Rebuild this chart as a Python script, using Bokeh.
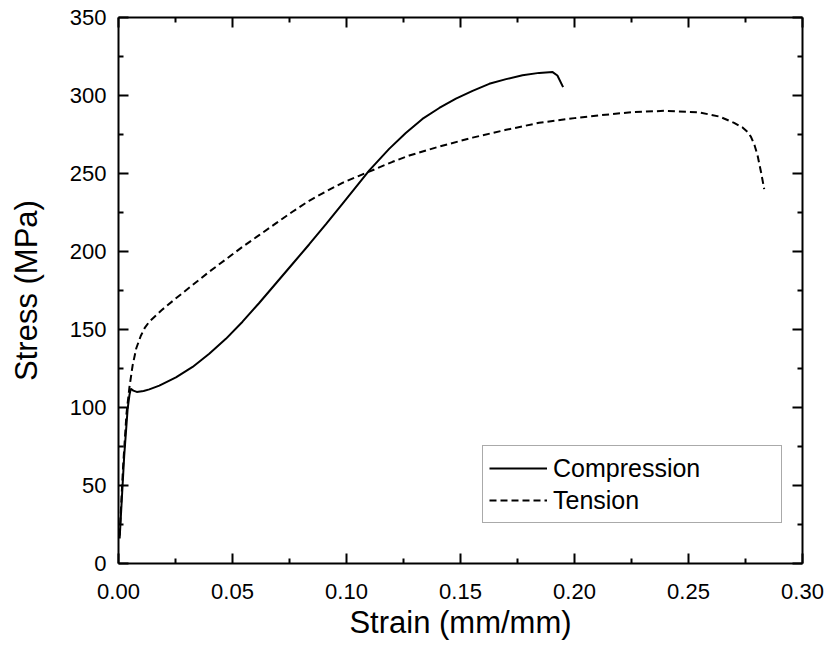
from bokeh.plotting import figure
from bokeh.models import Range1d, LinearAxis, FixedTicker, NumeralTickFormatter, Legend, LegendItem
from bokeh.embed import file_html
from bokeh.resources import INLINE

# ---- data ----
comp_strain = [0.0005, 0.0025, 0.004, 0.0048, 0.0054, 0.0065, 0.008, 0.011, 0.0135, 0.0179,
               0.0252, 0.0325, 0.0398, 0.0471, 0.0544, 0.0617, 0.069, 0.0763, 0.0836, 0.091,
               0.0982, 0.11, 0.1187, 0.126, 0.1333, 0.1407, 0.148, 0.1553, 0.1626, 0.17,
               0.1772, 0.1845, 0.1904, 0.1925, 0.195]
comp_stress = [16, 69, 99, 108, 112, 110.8, 110, 110.6, 111.6, 114,
               119.3, 126, 134.5, 144, 155, 167, 179.5, 192, 204.5, 217.5,
               230.6, 252, 265.8, 276, 285, 292, 298, 303, 307.5, 310.5,
               313, 314.5, 315, 312.8, 305.4]

tens_strain = [0.0005, 0.002, 0.0035, 0.0048, 0.0062, 0.0078, 0.0098, 0.0115, 0.0135, 0.019,
               0.0252, 0.0325, 0.0398, 0.0471, 0.0544, 0.0617, 0.069, 0.0763, 0.0836, 0.091,
               0.0982, 0.1055, 0.1129, 0.1202, 0.1275, 0.14, 0.1553, 0.17, 0.1845, 0.2,
               0.2108, 0.2254, 0.24, 0.2547, 0.2635, 0.27, 0.2737, 0.276, 0.2774, 0.279,
               0.2803, 0.2818, 0.2832]
tens_stress = [18, 62, 96, 113, 127, 138, 146, 151, 155, 162.5,
               170, 178.5, 187, 195, 203, 210.5, 218, 225.5, 232.5, 238.5,
               244, 248.5, 253, 257.5, 261.5, 267, 273, 278, 282.5, 285.5,
               287.3, 289.3, 290.2, 289.2, 286.5, 282.5, 279.5, 276.5, 273.5, 268,
               261.5, 251, 240]

x_ticks = [0.0, 0.05, 0.10, 0.15, 0.20, 0.25, 0.30]
x_minor = [0.025, 0.075, 0.125, 0.175, 0.225, 0.275]
y_ticks = [0, 50, 100, 150, 200, 250, 300, 350]
y_minor = [25, 75, 125, 175, 225, 275, 325]

FONT = "Liberation Sans"

p = figure(width=825, height=651, output_backend="svg", toolbar_location=None,
           x_range=Range1d(0, 0.30), y_range=Range1d(0, 350),
           min_border_left=118, min_border_right=23, min_border_top=17, min_border_bottom=88,
           background_fill_color="white", border_fill_color="white")
p.outline_line_color = None
p.grid.visible = False

xt = FixedTicker(ticks=x_ticks, minor_ticks=x_minor)
yt = FixedTicker(ticks=y_ticks, minor_ticks=y_minor)


def style_axis(ax, labels=True):
    ax.axis_line_width = 2
    ax.axis_line_color = "black"
    ax.major_tick_in = 10
    ax.major_tick_out = 0
    ax.minor_tick_in = 5
    ax.minor_tick_out = 0
    ax.major_tick_line_width = 2
    ax.minor_tick_line_width = 2
    ax.major_tick_line_color = "black"
    ax.minor_tick_line_color = "black"
    if labels:
        ax.major_label_text_font = FONT
        ax.major_label_text_font_size = "22px"
        ax.major_label_text_color = "black"
        ax.axis_label_text_font = FONT
        ax.axis_label_text_font_size = "31px"
        ax.axis_label_text_font_style = "normal"
        ax.axis_label_text_color = "black"
    else:
        ax.major_label_text_font_size = "1px"
        ax.major_label_text_color = None
        ax.major_label_standoff = 0
        ax.axis_label = None


xa = p.xaxis[0]
xa.ticker = xt
xa.formatter = NumeralTickFormatter(format="0.00")
xa.axis_label = "Strain (mm/mm)"
style_axis(xa)
xa.major_label_standoff = 20
xa.axis_label_standoff = 3

ya = p.yaxis[0]
ya.ticker = yt
ya.axis_label = "Stress (MPa)"
style_axis(ya)
ya.major_label_standoff = 12
ya.axis_label_standoff = 23

top = LinearAxis(ticker=xt)
style_axis(top, labels=False)
p.add_layout(top, "above")

right = LinearAxis(ticker=yt)
style_axis(right, labels=False)
p.add_layout(right, "right")

r1 = p.line(comp_strain, comp_stress, line_color="black", line_width=2)
r2 = p.line(tens_strain, tens_stress, line_color="black", line_width=2, line_dash="7 4")

legend = Legend(items=[LegendItem(label="Compression", renderers=[r1]),
                       LegendItem(label="Tension", renderers=[r2])],
                location=(364, 40), margin=0, padding=6, spacing=0,
                glyph_width=58, glyph_height=32, label_height=32, label_width=222,
                label_standoff=6, label_text_font=FONT, label_text_font_size="25px",
                label_text_color="black", border_line_color="#555555", border_line_width=1,
                background_fill_color="white", background_fill_alpha=1)
p.add_layout(legend)

open("out.html", "w").write(file_html(p, INLINE))
